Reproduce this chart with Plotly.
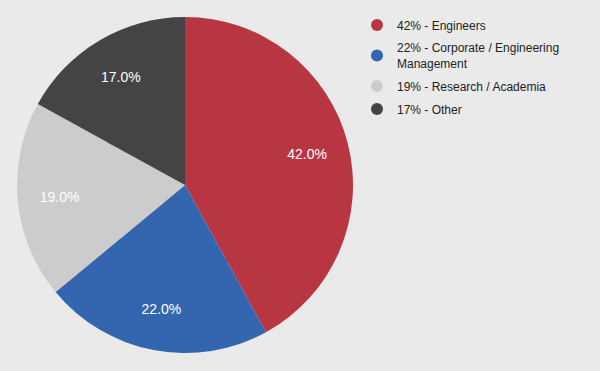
import plotly.graph_objects as go

labels = ["Engineers", "Corporate / Engineering Management", "Research / Academia", "Other"]
legend_labels = ["42% - Engineers", "22% - Corporate / Engineering<br>Management",
                 "19% - Research / Academia", "17% - Other"]
values = [42, 22, 19, 17]
colors = ["#b73641", "#3366ae", "#cccccc", "#444444"]

dom = dict(x=[17/600, 353/600], y=[1-353/371, 1-17/371])
fig = go.Figure()
# outer ring carries the labels (pushes them outward like the reference)
fig.add_trace(go.Pie(
    labels=labels, values=values, sort=False, direction="clockwise", rotation=0,
    hole=0.5,
    marker=dict(colors=colors, line=dict(width=0)),
    texttemplate="%{percent:.1%}", textposition="inside",
    textfont=dict(color="white", size=14, family="Liberation Sans, Arial"),
    insidetextorientation="horizontal",
    showlegend=False, hoverinfo="label+percent",
    domain=dom,
))
# inner fill of the same slices
inner = 0.52
cx, cy = 185/600, 1-185/371
fig.add_trace(go.Pie(
    labels=labels, values=values, sort=False, direction="clockwise", rotation=0,
    marker=dict(colors=colors, line=dict(width=0)),
    textinfo="none", showlegend=False, hoverinfo="label+percent",
    domain=dict(x=[cx-168*inner/600, cx+168*inner/600], y=[cy-168*inner/371, cy+168*inner/371]),
))
for i, (lab, col) in enumerate(zip(legend_labels, colors)):
    fig.add_trace(go.Scatter(x=[None], y=[None], mode="markers", name=lab, legendgroup=f"g{i}",
                             marker=dict(color=col, size=12, symbol="circle")))

fig.update_layout(
    width=600, height=371, margin=dict(l=0, r=0, t=0, b=0),
    paper_bgcolor="#eaeaea", plot_bgcolor="#eaeaea",
    font=dict(family="Liberation Sans, Arial", size=12, color="#222222"),
    xaxis=dict(visible=False), yaxis=dict(visible=False),
    legend=dict(x=0.595, y=0.972, xanchor="left", yanchor="top",
                bgcolor="rgba(0,0,0,0)", font=dict(size=12, color="#222222"),
                tracegroupgap=4, itemwidth=30),
)
fig.write_html("out.html", config={"displayModeBar": False},
               post_script="document.body.style.margin='0';")
